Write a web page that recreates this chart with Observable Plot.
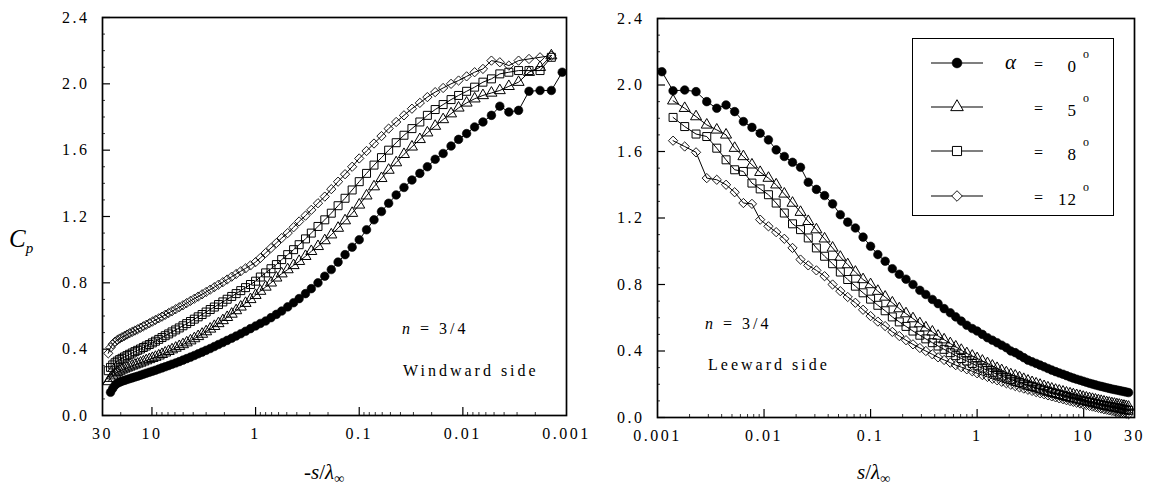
<!DOCTYPE html>
<html><head><meta charset="utf-8">
<script src="https://cdn.jsdelivr.net/npm/d3@7"></script>
<script src="https://cdn.jsdelivr.net/npm/@observablehq/plot@0.6"></script>
<style>
body{margin:0;background:#fff;}
#wrap{position:relative;width:1155px;height:490px;overflow:hidden;font-family:"Liberation Serif","DejaVu Serif","Times New Roman",Times,serif;color:#000;background:#fff;}
.abs{position:absolute;white-space:nowrap;line-height:1;}
.txt{font-size:16px;letter-spacing:3px;}
.ax{font-size:21px;font-style:italic;}
.ax sub{font-size:14px;font-style:italic;vertical-align:-4px;}
</style></head><body><div id="wrap"></div>
<script>
// distance along the surface s/λ∞ (shared sampling of both panels)
const sValues = [0.0011,0.0014,0.0018,0.0023,0.0029,0.0036,0.0044,0.0053,0.0064,0.0077,
 0.0092,0.011,0.013,0.0155,0.0185,0.022,0.026,0.031,0.037,0.044,
 0.052,0.061,0.072,0.085,0.1,0.117,0.137,0.16,0.186,0.215,
 0.25,0.29,0.33,0.38,0.43,0.49,0.56,0.63,0.71,0.8,
 0.9,1.0,1.12,1.25,1.39,1.54,1.7,1.88,2.07,2.28,
 2.5,2.74,3.0,3.28,3.58,3.9,4.25,4.62,5.02,5.45,
 5.9,6.4,6.9,7.45,8.0,8.6,9.25,9.9,10.6,11.35,
 12.1,12.9,13.75,14.6,15.5,16.45,17.4,18.4,19.45,20.5,
 21.6,22.7,23.9,25.1,26.4];

// Windward side Cp
const windwardAlpha0 = [2.07,1.96,1.96,1.955,1.84,1.83,1.865,1.81,1.77,1.74,
 1.70,1.665,1.625,1.58,1.545,1.50,1.46,1.42,1.375,1.33,
 1.28,1.23,1.18,1.12,1.06,1.015,0.97,0.925,0.88,0.84,
 0.80,0.765,0.735,0.705,0.68,0.655,0.63,0.61,0.59,0.57,
 0.555,0.54,0.524,0.508,0.493,0.479,0.466,0.453,0.44,0.428,
 0.416,0.404,0.393,0.382,0.372,0.362,0.352,0.343,0.334,0.325,
 0.317,0.309,0.301,0.294,0.287,0.28,0.273,0.267,0.261,0.255,
 0.249,0.243,0.237,0.232,0.227,0.222,0.217,0.212,0.207,0.201,
 0.194,0.183,0.163,0.14,null];
const windwardAlpha5 = [null,2.17,2.10,2.07,2.01,1.985,1.96,1.945,1.93,1.91,
 1.885,1.855,1.82,1.785,1.745,1.705,1.665,1.62,1.575,1.525,
 1.48,1.43,1.38,1.325,1.27,1.22,1.175,1.13,1.09,1.055,
 1.02,0.99,0.96,0.93,0.905,0.88,0.855,0.83,0.80,0.775,
 0.75,0.725,0.70,0.677,0.655,0.633,0.612,0.592,0.573,0.555,
 0.538,0.522,0.506,0.491,0.477,0.464,0.451,0.439,0.428,0.417,
 0.407,0.397,0.387,0.378,0.369,0.36,0.352,0.345,0.338,0.331,
 0.324,0.317,0.311,0.305,0.299,0.293,0.287,0.281,0.275,0.268,
 0.261,0.252,0.24,0.225,0.205];
const windwardAlpha8 = [null,2.16,2.08,2.08,2.08,2.07,2.06,2.03,2.01,1.98,
 1.955,1.93,1.905,1.875,1.845,1.81,1.77,1.73,1.69,1.645,
 1.60,1.555,1.51,1.46,1.41,1.36,1.31,1.265,1.22,1.18,
 1.14,1.10,1.065,1.03,1.0,0.97,0.94,0.91,0.885,0.86,
 0.835,0.81,0.79,0.771,0.753,0.735,0.718,0.701,0.685,0.669,
 0.654,0.639,0.624,0.609,0.595,0.581,0.567,0.554,0.541,0.528,
 0.516,0.504,0.492,0.481,0.47,0.459,0.448,0.438,0.428,0.419,
 0.41,0.401,0.393,0.385,0.377,0.369,0.361,0.353,0.345,0.337,
 0.328,0.318,0.305,0.29,0.27];
const windwardAlpha12 = [null,2.17,2.16,2.15,2.14,2.11,2.13,2.14,2.09,2.07,
 2.045,2.02,2.0,1.975,1.95,1.92,1.885,1.85,1.81,1.77,
 1.73,1.685,1.64,1.595,1.55,1.50,1.455,1.41,1.365,1.32,
 1.28,1.24,1.205,1.17,1.135,1.10,1.07,1.04,1.01,0.98,
 0.95,0.925,0.905,0.887,0.87,0.853,0.837,0.82,0.804,0.789,
 0.774,0.759,0.745,0.731,0.717,0.704,0.691,0.678,0.665,0.653,
 0.641,0.629,0.618,0.607,0.596,0.586,0.576,0.566,0.556,0.547,
 0.538,0.529,0.52,0.512,0.504,0.496,0.488,0.48,0.472,0.464,
 0.455,0.445,0.43,0.41,0.375];

// Leeward side Cp
const leewardAlpha0 = [2.08,1.965,1.97,1.96,1.90,1.86,1.88,1.84,1.78,1.745,
 1.71,1.67,1.61,1.57,1.535,1.505,1.415,1.372,1.335,1.285,
 1.22,1.175,1.14,1.085,1.03,0.98,0.94,0.895,0.862,0.832,
 0.80,0.765,0.74,0.71,0.685,0.655,0.63,0.605,0.58,0.555,
 0.535,0.52,0.50,0.48,0.465,0.45,0.435,0.42,0.40,0.39,
 0.375,0.36,0.345,0.335,0.325,0.315,0.305,0.295,0.285,0.276,
 0.268,0.26,0.252,0.244,0.237,0.23,0.224,0.218,0.212,0.206,
 0.201,0.196,0.191,0.187,0.183,0.179,0.175,0.171,0.168,0.165,
 0.162,0.159,0.156,0.153,0.15];
const leewardAlpha5 = [null,1.905,1.86,1.81,1.76,1.73,1.70,1.62,1.57,1.52,
 1.475,1.44,1.40,1.345,1.29,1.235,1.18,1.13,1.075,1.02,
 0.965,0.92,0.875,0.83,0.80,0.76,0.725,0.69,0.655,0.625,
 0.595,0.565,0.54,0.515,0.49,0.468,0.445,0.425,0.405,0.385,
 0.37,0.355,0.34,0.325,0.31,0.296,0.283,0.27,0.258,0.25,
 0.24,0.23,0.22,0.211,0.203,0.195,0.187,0.179,0.172,0.165,
 0.16,0.154,0.148,0.143,0.138,0.133,0.128,0.123,0.118,0.114,
 0.11,0.106,0.102,0.098,0.094,0.09,0.087,0.084,0.081,0.078,
 0.075,0.072,0.069,0.066,0.063];
const leewardAlpha8 = [null,1.805,1.75,1.705,1.69,1.62,1.55,1.49,1.48,1.41,
 1.375,1.34,1.29,1.23,1.165,1.13,1.08,1.02,0.97,0.925,
 0.875,0.83,0.79,0.75,0.712,0.675,0.642,0.605,0.575,0.548,
 0.52,0.495,0.473,0.45,0.43,0.41,0.39,0.372,0.355,0.34,
 0.325,0.31,0.297,0.284,0.272,0.26,0.249,0.238,0.228,0.219,
 0.21,0.202,0.194,0.186,0.178,0.171,0.164,0.157,0.15,0.144,
 0.138,0.132,0.126,0.121,0.116,0.111,0.106,0.101,0.097,0.093,
 0.089,0.085,0.081,0.077,0.073,0.07,0.067,0.064,0.061,0.058,
 0.055,0.052,0.049,0.046,0.043];
const leewardAlpha12 = [null,1.665,1.63,1.595,1.44,1.43,1.40,1.355,1.29,1.285,
 1.19,1.15,1.115,1.075,1.02,0.95,0.915,0.885,0.85,0.80,
 0.76,0.725,0.69,0.648,0.61,0.577,0.55,0.515,0.49,0.465,
 0.44,0.418,0.4,0.38,0.362,0.346,0.33,0.315,0.303,0.29,
 0.278,0.266,0.255,0.244,0.233,0.224,0.215,0.206,0.197,0.189,
 0.181,0.174,0.167,0.16,0.153,0.146,0.14,0.133,0.127,0.121,
 0.115,0.11,0.104,0.099,0.094,0.089,0.084,0.079,0.075,0.07,
 0.066,0.062,0.058,0.054,0.05,0.047,0.043,0.04,0.037,0.034,
 0.031,0.028,0.025,0.023,0.02];

const alphaLabels = ["0", "5", "8", "12"];
const yTicks = [0, 0.4, 0.8, 1.2, 1.6, 2.0, 2.4];
const yMinorTicks = [0.1,0.2,0.3,0.5,0.6,0.7,0.9,1.0,1.1,1.3,1.4,1.5,1.7,1.8,1.9,2.1,2.2,2.3];
const xTickValues = [30, 10, 1, 0.1, 0.01, 0.001];
const xTickLabels = ["30", "10", "1", "0.1", "0.01", "0.001"];
const xMajorTicks = [10, 1, 0.1, 0.01];
const xMinorTicks = [20,9,8,7,6,5,4,3,2,0.9,0.8,0.7,0.6,0.5,0.4,0.3,0.2,
 0.09,0.08,0.07,0.06,0.05,0.04,0.03,0.02,0.009,0.008,0.007,0.006,0.005,0.004,0.003,0.002];

const SERIF = "'Liberation Serif', 'DejaVu Serif', 'Times New Roman', Times, serif";

// marker symbols
const diamondSymbol = {draw(ctx, size) {const h = Math.sqrt(size / 2);
  ctx.moveTo(0, -h); ctx.lineTo(h, 0); ctx.lineTo(0, h); ctx.lineTo(-h, 0); ctx.closePath();}};
const markerStyles = [
  {symbol: d3.symbolCircle, r: 4.3, fill: "#000", stroke: "#000", strokeWidth: 0.6},
  {symbol: d3.symbolTriangle, r: 4.1, fill: "none", stroke: "#000", strokeWidth: 1},
  {symbol: d3.symbolSquare, r: 4.5, fill: "none", stroke: "#000", strokeWidth: 1},
  {symbol: diamondSymbol, r: 3.7, fill: "none", stroke: "#000", strokeWidth: 0.9}
];

function tidy(seriesList) {
  return seriesList.map((vals, k) => vals.map((v, i) => ({s: sValues[i], cp: v, alpha: alphaLabels[k]}))
    .filter(d => d.cp != null));
}

function panel({series, domain, width, height, mt, mr, mb, ml}) {
  const fw = width - ml - mr, fh = height - mt - mb;
  const data = tidy(series);
  const marks = [
    Plot.tickX(xMinorTicks, {x: d => d, insetTop: fh - 3, stroke: "#000", strokeWidth: 0.8}),
    Plot.tickX(xMajorTicks, {x: d => d, insetTop: fh - 8, stroke: "#000", strokeWidth: 1.2}),
    Plot.tickY(yMinorTicks, {y: d => d, insetRight: fw - 3, stroke: "#000", strokeWidth: 0.8}),
    Plot.tickY(yTicks, {y: d => d, insetRight: fw - 8, stroke: "#000", strokeWidth: 1.2}),
    Plot.frame({stroke: "#000", strokeWidth: 1.7}),
    Plot.text(xTickValues, {x: d => d, text: (d, i) => xTickLabels[i], frameAnchor: "bottom",
      dy: 18, lineAnchor: "middle", fontSize: 16, fill: "#000"})
  ];
  data.forEach((d) => {
    marks.push(Plot.line(d, {x: "s", y: "cp", stroke: "#000", strokeWidth: 1}));
  });
  data.forEach((d, k) => {
    const m = markerStyles[k];
    marks.push(Plot.dot(d, {x: "s", y: "cp", symbol: m.symbol, r: m.r, fill: m.fill, stroke: m.stroke, strokeWidth: m.strokeWidth}));
  });
  return Plot.plot({
    width, height, marginTop: mt, marginRight: mr, marginBottom: mb, marginLeft: ml,
    style: {fontFamily: SERIF, fontSize: "16px", letterSpacing: "2.5px", background: "transparent", overflow: "visible", color: "#000"},
    x: {type: "log", domain, axis: null},
    y: {domain: [0, 2.4], ticks: yTicks, tickFormat: d => d.toFixed(1), tickSize: 0, tickPadding: 13, label: null},
    marks
  });
}

const wrap = document.getElementById("wrap");
function place(node, left, top) {
  const div = document.createElement("div");
  div.className = "abs"; div.style.left = left + "px"; div.style.top = top + "px";
  div.appendChild(node); wrap.appendChild(div); return div;
}
function html(str, left, top, cls, extra) {
  const div = document.createElement("div");
  div.className = "abs " + (cls || ""); div.style.left = left + "px"; div.style.top = top + "px";
  if (extra) Object.assign(div.style, extra);
  div.innerHTML = str; wrap.appendChild(div); return div;
}

place(panel({series: [windwardAlpha0, windwardAlpha5, windwardAlpha8, windwardAlpha12],
  domain: [30, 0.001], width: 610, height: 455, mt: 17, mr: 44, mb: 40, ml: 102}), 0, 0);
place(panel({series: [leewardAlpha0, leewardAlpha5, leewardAlpha8, leewardAlpha12],
  domain: [0.001, 30], width: 555, height: 455, mt: 18, mr: 21, mb: 38, ml: 57}), 600, 0);

// axis titles
html('C<sub style="font-size:15px;vertical-align:-6px">p</sub>', 9, 226, "ax", {fontSize: "25px"});
html('-<i>s</i>/<i>λ</i><sub>∞</sub>', 304, 462, "ax", {fontStyle: "normal"});
html('<i>s</i>/<i>λ</i><sub>∞</sub>', 857, 462, "ax", {fontStyle: "normal"});

// annotations
html('<i>n</i> = 3/4', 402, 321, "txt");
html('Windward side', 403, 363, "txt");
html('<i>n</i> = 3/4', 705, 316, "txt");
html('Leeward side', 708, 357, "txt");

// legend
html('', 912, 38, "", {width: "202px", height: "178px", border: "1.5px solid #000", boxSizing: "border-box"});
const rowsY = [63, 107, 151, 196];
const lsvg = d3.create("svg").attr("width", 1155).attr("height", 490)
  .style("position", "absolute").style("left", "0px").style("top", "0px").style("overflow", "visible");
rowsY.forEach((y, k) => {
  const m = markerStyles[k];
  lsvg.append("line").attr("x1", 931).attr("x2", 983).attr("y1", y).attr("y2", y).attr("stroke", "#000").attr("stroke-width", 1.2);
  lsvg.append("path").attr("transform", `translate(957,${y})`)
    .attr("d", d3.symbol(m.symbol, Math.PI * m.r * m.r * 1.3)())
    .attr("fill", m.fill === "none" ? "#fff" : m.fill).attr("stroke", m.stroke).attr("stroke-width", m.strokeWidth);
});
wrap.appendChild(lsvg.node());
html('<i>α</i>', 1005, rowsY[0] - 11, "", {fontSize: "21px"});
rowsY.forEach((y, k) => {
  html('=', 1034, y - 6, "", {fontSize: "16px"});
  html(alphaLabels[k], 1050, y - 5, "", {fontSize: "17px", width: "27px", textAlign: "right", letterSpacing: "1px"});
  html('o', 1083, y - 15, "", {fontSize: "12px"});
});
</script></body></html>
